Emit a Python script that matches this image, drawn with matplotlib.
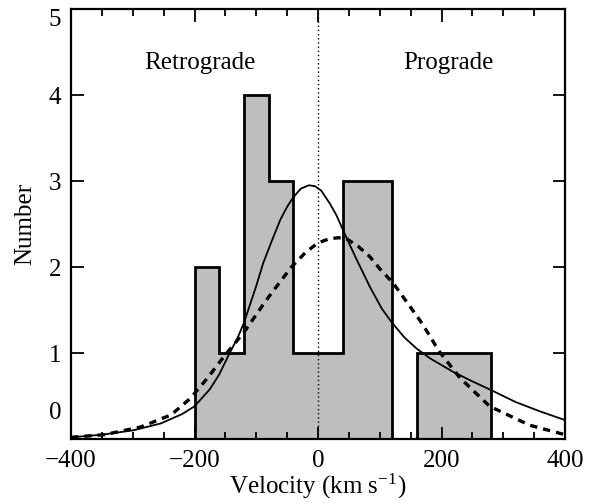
import matplotlib
matplotlib.use("Agg")
import matplotlib.pyplot as plt
import matplotlib.transforms as mtransforms
from matplotlib.ticker import MultipleLocator

plt.rcParams["font.family"] = ["Liberation Serif", "DejaVu Serif"]
plt.rcParams["mathtext.fontset"] = "custom"
plt.rcParams["mathtext.rm"] = "Liberation Serif"
plt.rcParams["mathtext.it"] = "Liberation Serif:italic"
plt.rcParams["axes.unicode_minus"] = True

# Histogram of line-of-sight velocities (40 km/s bins)
bin_edges = [-200, -160, -120, -80, -40, 0, 40, 80, 120, 160, 200, 240, 280]
counts = [2, 1, 4, 3, 1, 1, 3, 3, 0, 1, 1, 1]

# Model curves (velocity, number)
solid_v = [-400, -350, -300, -255, -220, -200, -175, -160, -143, -130, -120,
           -113, -100, -89, -75, -61, -50, -40, -28, -15, -5, 5, 19, 30, 38,
           50, 63, 84, 103, 119, 140, 160, 181, 200, 219, 250, 280, 320, 360,
           400]
solid_n = [0.02, 0.05, 0.10, 0.18, 0.29, 0.38, 0.58, 0.75, 1.00, 1.18, 1.35,
           1.50, 1.78, 2.04, 2.30, 2.55, 2.70, 2.81, 2.91, 2.95, 2.94, 2.89,
           2.74, 2.60, 2.47, 2.28, 2.08, 1.77, 1.52, 1.36, 1.18, 1.05, 0.94,
           0.86, 0.78, 0.67, 0.57, 0.43, 0.32, 0.22]

dashed_v = [-400, -346, -287, -238, -207, -180, -150, -121, -89, -78, -43,
            -20, 0, 19, 33, 46, 65, 84, 100, 122, 148, 165, 181, 195, 230,
            278, 343, 400]
dashed_n = [0.02, 0.05, 0.14, 0.28, 0.47, 0.70, 0.98, 1.23, 1.56, 1.67, 2.00,
            2.17, 2.28, 2.33, 2.34, 2.33, 2.24, 2.12, 1.98, 1.81, 1.55, 1.38,
            1.20, 1.03, 0.71, 0.38, 0.16, 0.05]

region_labels = ["Retrograde", "Prograde"]
region_x = [-191, 211]
region_y = [4.37, 4.37]

fig = plt.figure(figsize=(5.9, 5.04), dpi=100)
ax = fig.add_axes([71 / 590, 1 - 439 / 504, (565 - 71) / 590, (439 - 9) / 504])

ax.stairs(counts, bin_edges, fill=True, color="#bebebe", zorder=1)
ax.stairs(counts, bin_edges, color="black", lw=2.0, baseline=0, zorder=2)

ax.axvline(0, color="black", lw=1.0, ls=(0, (1, 2)), zorder=3)

ax.plot(solid_v, solid_n, color="black", lw=1.3, zorder=4,
        solid_joinstyle="round")
ax.plot(dashed_v, dashed_n, color="black", lw=2.4, ls=(0, (2.2, 1.8)), zorder=4)

for lab, xx, yy in zip(region_labels, region_x, region_y):
    ax.text(xx, yy, lab, ha="center", va="center", fontsize=18)

ax.set_xlim(-400, 400)
ax.set_ylim(0, 5)
ax.xaxis.set_major_locator(MultipleLocator(200))
ax.xaxis.set_minor_locator(MultipleLocator(50))
ax.yaxis.set_major_locator(MultipleLocator(1))

for s in ax.spines.values():
    s.set_linewidth(1.6)

ax.tick_params(which="both", direction="in", top=True, right=True,
               labelsize=18, width=1.3)
ax.tick_params(which="major", length=9)
ax.tick_params(which="minor", length=5)
ax.tick_params(axis="x", pad=8)
ax.tick_params(axis="y", pad=7)

ax.set_xlabel("Velocity (km s$^{-1}$)", fontsize=18, labelpad=0)
ax.set_ylabel("Number", fontsize=18, labelpad=9)

fig.canvas.draw()
for t in ax.get_yticklabels():
    if t.get_text() == "0":
        t.set_va("bottom")
        t.set_transform(t.get_transform() + mtransforms.ScaledTranslation(
            0, 15 / 100, fig.dpi_scale_trans))
    if t.get_text() == "5":
        t.set_va("top")

fig.savefig("out.png", dpi=100)
